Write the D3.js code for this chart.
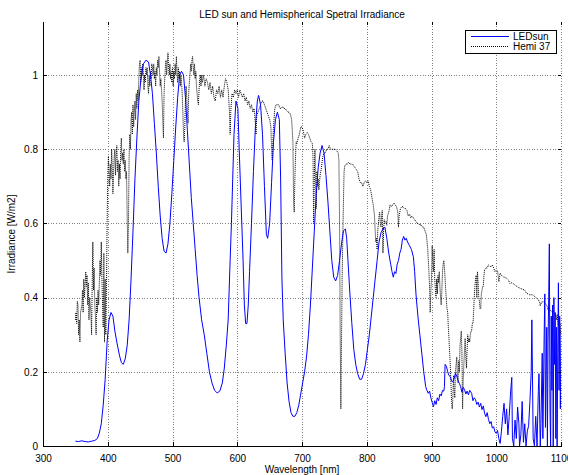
<!DOCTYPE html>
<html>
<head>
<meta charset="utf-8">
<script src="https://cdn.jsdelivr.net/npm/d3@7/dist/d3.min.js"></script>
<style>
  html, body { margin: 0; padding: 0; background: #fff; }
  svg { display: block; font-family: "Liberation Sans", Arial, Helvetica, sans-serif; }
  .axis text { font-size: 10px; fill: #000; }
  .axis path, .axis line { stroke: #000; shape-rendering: crispEdges; }
  .grid line { stroke: #808080; stroke-dasharray: 1,1.6; shape-rendering: crispEdges; }
  .grid path { display: none; }
</style>
</head>
<body>
<svg id="chart" width="568" height="475"></svg>
<script>
// Chart text
const chartTitle = "LED sun and Hemispherical Spetral Irradiance";
const xLabel = "Wavelength [nm]";
const yLabel = "Irradiance [W/m2]";
const seriesNames = ["LEDsun", "Hemi 37"];

// Axis ranges and ticks
const xDomain = [300, 1100];
const yDomain = [0, 1.143];
const xTicks = [300, 400, 500, 600, 700, 800, 900, 1000, 1100];
const yTicks = [0, 0.2, 0.4, 0.6, 0.8, 1];

// LED sun simulator spectrum: [wavelength nm, irradiance]
const ledSun = [
  [350,0.013],[355,0.012],[360,0.014],[365,0.012],[370,0.011],[375,0.013],[380,0.015],[384,0.02],
  [387,0.035],[390,0.06],[393,0.11],[396,0.18],[399,0.28],[402,0.34],[405,0.36],[408,0.35],
  [411,0.31],[414,0.28],[418,0.245],[421,0.225],[424,0.22],[427,0.235],[430,0.27],[433,0.34],
  [436,0.45],[439,0.58],[442,0.72],[445,0.83],[448,0.93],[451,0.985],[455,1.03],[459,1.04],
  [463,1.035],[466,1.0],[469,0.95],[472,0.87],[475,0.79],[478,0.7],[481,0.62],[484,0.56],
  [487,0.525],[490,0.52],[493,0.545],[496,0.6],[499,0.68],[502,0.77],[505,0.86],[508,0.94],
  [511,1.0],[514,1.01],[517,1.0],[520,0.94],[523,0.85],[526,0.76],[529,0.67],[532,0.6],
  [535,0.53],[538,0.46],[541,0.4],[545,0.34],[549,0.3],[553,0.25],[557,0.2],[561,0.17],
  [565,0.15],[569,0.143],[573,0.148],[577,0.17],[580,0.21],[583,0.27],[586,0.34],[589,0.5],
  [591,0.6],[593,0.72],[595,0.84],[598,0.93],[601,0.91],[603,0.8],[606,0.65],[609,0.5],
  [611,0.38],[613,0.33],[615,0.33],[617,0.38],[619,0.47],[622,0.6],[625,0.74],[628,0.86],
  [631,0.93],[633,0.945],[636,0.92],[639,0.84],[642,0.7],[645,0.57],[647,0.56],[650,0.6],
  [653,0.71],[656,0.82],[659,0.88],[662,0.9],[665,0.88],[667,0.72],[669,0.45],[671,0.34],
  [674,0.25],[677,0.17],[680,0.12],[683,0.09],[686,0.08],[689,0.08],[692,0.09],[695,0.11],
  [698,0.14],[701,0.17],[704,0.2],[707,0.24],[710,0.3],[713,0.38],[716,0.48],[719,0.58],
  [722,0.68],[725,0.75],[728,0.79],[731,0.81],[734,0.79],[737,0.73],[740,0.66],[743,0.58],
  [746,0.5],[749,0.455],[752,0.445],[755,0.46],[758,0.5],[761,0.545],[764,0.58],[767,0.585],
  [769,0.56],[771,0.5],[774,0.41],[777,0.33],[780,0.26],[783,0.22],[786,0.195],[789,0.18],
  [792,0.18],[795,0.195],[798,0.22],[801,0.26],[804,0.3],[807,0.35],[810,0.4],[813,0.45],
  [816,0.5],[819,0.55],[822,0.575],[825,0.585],[828,0.59],[831,0.56],[834,0.52],[837,0.49],
  [839,0.47],[841,0.455],[843,0.47],[845,0.465],[847,0.49],[849,0.5],[851,0.52],[853,0.53],
  [855,0.555],[857,0.565],[859,0.555],[861,0.56],[863,0.55],[866,0.54],[869,0.53],[872,0.51],
  [874,0.47],[876,0.41],[879,0.35],[882,0.3],[885,0.25],[888,0.2],[891,0.16],[893,0.15],
  [895,0.142],[897,0.148],[899,0.13],[901,0.118],[903,0.106],[905,0.122],[907,0.112],[909,0.13],
  [911,0.122],[913,0.14],[915,0.135],[917,0.15],[919,0.148],[920,0.16],[921,0.22],[923,0.215],
  [925,0.2],[927,0.19],[929,0.187],[931,0.175],[933,0.173],[935,0.182],[937,0.196],[939,0.188],
  [941,0.176],[943,0.169],[945,0.16],[947,0.145],[949,0.158],[951,0.152],[953,0.14],[955,0.148],
  [957,0.138],[959,0.15],[962,0.142],[964,0.122],[966,0.13],[968,0.125],[970,0.112],[972,0.118],
  [974,0.105],[976,0.115],[978,0.098],[980,0.108],[982,0.088],[984,0.079],[986,0.09],[988,0.072],
  [990,0.06],[992,0.066],[994,0.048],[996,0.052],[998,0.038],[1000,0.034],[1002,0.042],[1004,0.02],
  [1006,0.007],[1008,0.04],[1010,0.08],[1012,0.115],[1014,0.06],[1016,0.1],
  [1018,0.03],[1020,0.08],[1022,0.14],[1024,0.185],[1025,0.02],[1027,0.0],[1029,0.07],[1031,0.02],
  [1033,0.105],[1035,0.06],[1036,0.0],[1038,0.03],[1040,0.12],[1042,0.01],[1044,0.06],[1046,0.0],
  [1048,0.04],[1050,0.055],[1052,0.12],[1054,0.2],[1055,0.34],[1057,0.02],[1059,0.0],[1061,0.08],
  [1063,0.0],[1065,0.15],[1066,0.195],[1068,0.0],[1069,0.06],[1071,0.25],[1072,0.02],[1074,0.3],
  [1075,0.41],[1076,0.05],[1077,0.2],[1078,0.32],[1079,0.0],[1080,0.28],[1081,0.4],[1082,0.545],
  [1083,0.1],[1084,0.0],[1085,0.35],[1086,0.15],[1087,0.38],[1088,0.0],[1089,0.4],[1090,0.22],
  [1091,0.36],[1092,0.02],[1093,0.32],[1094,0.0],[1095,0.25],[1096,0.44],[1097,0.15],[1098,0.35],
  [1099,0.1],[1100,0.3]
];

// Hemispherical reference spectrum (37 deg tilt): [wavelength nm, irradiance]
const hemi37 = [
  [350,0.34],[351,0.36],[352,0.33],[353,0.39],[354,0.38],[355,0.30],[356,0.34],[357,0.28],
  [358,0.36],[360,0.38],[361,0.42],[362,0.36],[363,0.45],[364,0.40],[366,0.47],[367,0.43],
  [368,0.46],[369,0.38],[370,0.44],[371,0.34],[372,0.40],[374,0.36],[375,0.30],[376,0.44],
  [377,0.55],[378,0.42],[379,0.48],[380,0.38],[381,0.35],[382,0.30],[383,0.40],[384,0.36],
  [385,0.42],[386,0.38],[387,0.44],[388,0.50],[389,0.46],[390,0.55],[391,0.45],[392,0.38],
  [393,0.32],[394,0.52],[395,0.28],[396,0.45],[397,0.30],[398,0.42],[399,0.60],[400,0.72],
  [401,0.78],[402,0.74],[403,0.70],[404,0.76],[405,0.72],[406,0.80],[407,0.75],[408,0.68],
  [409,0.74],[410,0.78],[411,0.80],[412,0.73],[413,0.78],[414,0.81],[415,0.74],[416,0.77],
  [417,0.70],[418,0.76],[419,0.72],[420,0.80],[421,0.83],[422,0.77],[423,0.79],[424,0.76],
  [425,0.80],[426,0.74],[427,0.77],[428,0.72],[429,0.74],[430,0.62],[431,0.52],[432,0.60],
  [433,0.78],[434,0.84],[435,0.80],[436,0.88],[437,0.90],[438,0.84],[439,0.92],[440,0.86],
  [441,0.90],[442,0.93],[443,0.88],[444,0.95],[445,0.91],[446,0.96],[447,0.93],[448,0.99],
  [449,1.03],[450,1.04],[451,0.98],[452,1.02],[453,1.00],[454,1.03],[455,1.01],[456,0.96],
  [457,1.00],[458,0.98],[459,1.02],[460,1.00],[461,1.02],[462,0.97],[463,0.95],[464,1.00],
  [465,0.97],[466,1.01],[467,0.99],[468,1.03],[469,1.02],[470,1.00],[471,1.03],[472,0.99],
  [473,1.01],[474,0.97],[475,1.02],[476,1.00],[477,1.04],[478,1.02],[479,1.05],[480,1.01],
  [481,0.97],[482,0.99],[483,0.96],[484,0.93],[485,0.88],[486,0.83],[487,0.95],[488,0.99],
  [489,1.02],[490,1.04],[491,1.00],[492,1.03],[493,1.06],[494,1.02],[495,1.00],[496,1.03],
  [497,0.99],[498,1.01],[499,0.98],[500,1.02],[501,0.97],[502,1.01],[503,0.99],[504,1.03],
  [505,1.00],[506,1.05],[507,1.01],[508,0.98],[509,1.02],[510,0.99],[511,1.01],[512,0.97],
  [513,1.00],[514,0.98],[515,0.95],[516,0.90],[517,0.84],[518,0.82],[519,0.86],[520,0.93],
  [521,0.97],[522,0.94],[523,0.90],[524,0.87],[525,0.95],[526,0.98],[527,1.00],[528,1.03],
  [529,1.01],[530,1.04],[531,1.05],[532,1.02],[533,1.00],[534,1.03],[535,0.99],[536,1.01],
  [537,0.97],[538,0.95],[539,0.93],[540,0.92],[541,0.96],[542,0.99],[543,1.00],[544,0.97],
  [545,1.00],[546,0.98],[548,1.00],[550,0.97],[552,0.99],[554,0.98],[556,0.96],[558,0.98],
  [560,0.95],[562,0.97],[564,0.94],[566,0.93],[568,0.96],[570,0.95],[572,0.97],[574,0.94],
  [576,0.96],[578,0.94],[580,0.97],[582,0.99],[584,0.98],[586,0.96],[588,0.90],[589,0.84],
  [590,0.90],[591,0.93],[592,0.95],[594,0.94],[596,0.96],[598,0.95],[600,0.96],[602,0.94],
  [604,0.96],[606,0.95],[608,0.94],[610,0.95],[612,0.93],[614,0.94],[616,0.92],[618,0.93],
  [620,0.91],[622,0.92],[624,0.90],[626,0.91],[628,0.87],[629,0.84],[630,0.89],[632,0.90],
  [634,0.91],[636,0.92],[638,0.93],[640,0.93],[642,0.92],[644,0.91],[646,0.90],[648,0.89],
  [650,0.88],[652,0.86],[653,0.80],[654,0.77],[655,0.82],[656,0.86],[658,0.91],[660,0.92],
  [662,0.92],[664,0.92],[666,0.91],[668,0.91],[670,0.915],[672,0.91],[674,0.91],[676,0.905],
  [678,0.90],[680,0.90],[682,0.895],[684,0.88],[685,0.85],[686,0.82],[687,0.66],[688,0.63],
  [689,0.72],[690,0.78],[691,0.82],[692,0.815],[694,0.83],[696,0.84],[698,0.86],[700,0.86],
  [702,0.85],[704,0.83],[706,0.84],[708,0.845],[710,0.84],[712,0.83],[714,0.82],[716,0.815],
  [717,0.78],[718,0.60],[719,0.72],[720,0.80],[721,0.70],[722,0.64],[723,0.74],[724,0.70],
  [725,0.72],[726,0.69],[727,0.71],[728,0.73],[729,0.74],[730,0.75],[732,0.78],[734,0.79],
  [736,0.79],[738,0.80],[740,0.80],[742,0.81],[744,0.80],[746,0.80],[748,0.80],[750,0.80],
  [752,0.80],[754,0.795],[756,0.79],[757,0.77],[758,0.60],[759,0.30],[760,0.10],[761,0.28],
  [762,0.45],[763,0.56],[764,0.66],[765,0.74],[766,0.755],[768,0.76],[770,0.76],[772,0.765],
  [774,0.76],[776,0.76],[778,0.76],[780,0.755],[782,0.75],[784,0.745],[786,0.74],[788,0.72],
  [790,0.71],[792,0.71],[794,0.70],[796,0.71],[798,0.715],[800,0.71],[802,0.715],[804,0.70],
  [806,0.69],[808,0.67],[810,0.65],[812,0.62],[813,0.58],[814,0.55],[815,0.56],[816,0.53],
  [817,0.58],[818,0.60],[819,0.62],[820,0.63],[821,0.60],[822,0.59],[823,0.62],[824,0.635],
  [825,0.52],[826,0.58],[827,0.61],[828,0.60],[830,0.605],[831,0.595],[832,0.62],[834,0.63],
  [836,0.65],[838,0.645],[840,0.65],[842,0.655],[844,0.65],[846,0.645],[848,0.63],[849,0.59],
  [850,0.62],[852,0.64],[854,0.645],[856,0.645],[858,0.64],[860,0.64],[862,0.635],[864,0.62],
  [866,0.625],[868,0.615],[870,0.62],[872,0.615],[874,0.61],[876,0.605],[878,0.60],[880,0.60],
  [882,0.595],[884,0.597],[886,0.59],[888,0.59],[890,0.58],[892,0.57],[894,0.535],[896,0.47],
  [897,0.43],[898,0.36],[899,0.42],[900,0.45],[901,0.54],[902,0.50],[903,0.47],[904,0.53],
  [905,0.45],[906,0.42],[907,0.40],[908,0.45],[909,0.41],[910,0.46],[911,0.44],[912,0.47],
  [913,0.43],[914,0.40],[915,0.38],[916,0.42],[917,0.47],[918,0.49],[919,0.50],[920,0.48],
  [921,0.45],[922,0.42],[923,0.39],[924,0.37],[925,0.36],[926,0.32],[927,0.29],[928,0.25],
  [929,0.22],[930,0.17],[931,0.12],[932,0.10],[933,0.13],[934,0.19],[935,0.15],[936,0.13],
  [937,0.20],[938,0.22],[939,0.24],[940,0.19],[941,0.17],[942,0.23],[943,0.20],[944,0.27],
  [945,0.29],[946,0.31],[947,0.25],[948,0.10],[949,0.18],[950,0.22],[951,0.26],[952,0.29],
  [953,0.24],[954,0.21],[955,0.26],[956,0.30],[957,0.28],[958,0.29],[959,0.28],[960,0.30],
  [961,0.31],[962,0.31],[963,0.33],[964,0.33],[965,0.36],[966,0.40],[967,0.43],[968,0.45],
  [969,0.46],[970,0.40],[971,0.47],[972,0.44],[973,0.40],[974,0.39],[975,0.37],[976,0.37],
  [977,0.41],[978,0.42],[979,0.43],[980,0.43],[981,0.46],[982,0.475],[984,0.48],[986,0.48],
  [988,0.488],[990,0.485],[992,0.483],[994,0.488],[996,0.48],[998,0.47],[1000,0.474],[1002,0.472],
  [1004,0.443],[1006,0.466],[1008,0.46],[1011,0.456],[1014,0.454],[1016,0.452],[1019,0.447],[1021,0.438],
  [1024,0.44],[1026,0.438],[1029,0.434],[1032,0.43],[1035,0.427],[1037,0.425],[1040,0.423],[1044,0.42],
  [1047,0.411],[1050,0.41],[1052,0.407],[1055,0.408],[1057,0.407],[1060,0.402],[1063,0.398],[1065,0.394],
  [1067,0.388],[1068,0.378],[1070,0.388],[1073,0.389],[1075,0.385],[1078,0.38],[1080,0.367],[1082,0.372],
  [1084,0.365],[1086,0.362],[1088,0.364],[1090,0.358],[1092,0.35],[1093,0.34],[1094,0.355],[1096,0.326],
  [1097,0.34],[1098,0.331],[1099,0.30],[1100,0.33]
];

// Layout of the plotting box
const plot = { left: 43, right: 561, top: 22, bottom: 446 };

const svg = d3.select("#chart");
const x = d3.scaleLinear().domain(xDomain).range([plot.left, plot.right]);
const y = d3.scaleLinear().domain(yDomain).range([plot.bottom, plot.top]);

// Dotted grid
svg.append("g").attr("class", "grid")
  .attr("transform", `translate(0,${plot.bottom})`)
  .call(d3.axisBottom(x).tickValues(xTicks.slice(1)).tickSize(-(plot.bottom - plot.top)).tickFormat(""));
svg.append("g").attr("class", "grid")
  .attr("transform", `translate(${plot.left},0)`)
  .call(d3.axisLeft(y).tickValues(yTicks.slice(1)).tickSize(-(plot.right - plot.left)).tickFormat(""));

// Data lines
svg.append("clipPath").attr("id", "clip").append("rect")
  .attr("x", plot.left).attr("y", plot.top)
  .attr("width", plot.right - plot.left).attr("height", plot.bottom - plot.top);

const line = d3.line().x(d => x(d[0])).y(d => y(d[1]));
const data = svg.append("g").attr("clip-path", "url(#clip)");

data.append("path").datum(hemi37)
  .attr("d", line).attr("fill", "none")
  .attr("stroke", "#000").attr("stroke-width", 1)
  .attr("stroke-dasharray", "1,1");

data.append("path").datum(ledSun)
  .attr("d", line).attr("fill", "none")
  .attr("stroke", "#0000ff").attr("stroke-width", 1);

// Axes with inward ticks
const fmtY = d => (d === 0 ? "0" : d === 1 ? "1" : d3.format(".1f")(d));
svg.append("g").attr("class", "axis")
  .attr("transform", `translate(0,${plot.bottom})`)
  .call(d3.axisBottom(x).tickValues(xTicks).tickSizeInner(-4).tickSizeOuter(0).tickPadding(9).tickFormat(d3.format("d")));
svg.append("g").attr("class", "axis")
  .attr("transform", `translate(${plot.left},0)`)
  .call(d3.axisLeft(y).tickValues(yTicks).tickSizeInner(-4).tickSizeOuter(0).tickPadding(5).tickFormat(fmtY));

// Small ticks along the top and right edges
svg.append("g").attr("class", "axis")
  .attr("transform", `translate(0,${plot.top})`)
  .call(d3.axisTop(x).tickValues(xTicks).tickSizeInner(-3).tickSizeOuter(0).tickFormat(""))
  .select(".domain").remove();
svg.append("g").attr("class", "axis")
  .attr("transform", `translate(${plot.right},0)`)
  .call(d3.axisRight(y).tickValues(yTicks).tickSizeInner(-3).tickSizeOuter(0).tickFormat(""))
  .select(".domain").remove();

// Title and axis labels
svg.append("text").attr("x", (plot.left + plot.right) / 2).attr("y", 18)
  .attr("text-anchor", "middle").attr("font-size", 10).text(chartTitle);
svg.append("text").attr("x", (plot.left + plot.right) / 2).attr("y", 473)
  .attr("text-anchor", "middle").attr("font-size", 10).text(xLabel);
svg.append("text")
  .attr("transform", `translate(15,${(plot.top + plot.bottom) / 2}) rotate(-90)`)
  .attr("text-anchor", "middle").attr("font-size", 10).text(yLabel);

// Legend
const lg = svg.append("g").attr("transform", "translate(465,30)");
lg.append("rect").attr("width", 91).attr("height", 23)
  .attr("fill", "#fff").attr("stroke", "#000").attr("stroke-width", 1)
  .attr("shape-rendering", "crispEdges");
const styles = [
  { stroke: "#0000ff", dash: null },
  { stroke: "#000", dash: "1,1" }
];
seriesNames.forEach((name, i) => {
  const yy = 6.5 + i * 10;
  lg.append("line").attr("x1", 6).attr("x2", 44).attr("y1", yy).attr("y2", yy)
    .attr("stroke", styles[i].stroke).attr("stroke-width", 1)
    .attr("stroke-dasharray", styles[i].dash);
  lg.append("text").attr("x", 48).attr("y", yy).attr("dy", "0.35em")
    .attr("font-size", 10).text(name);
});
</script>
</body>
</html>
